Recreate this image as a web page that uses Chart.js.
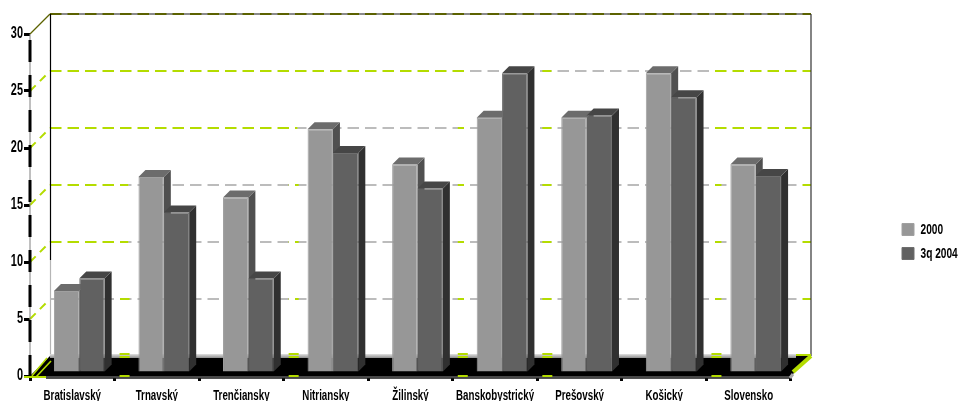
<!DOCTYPE html>
<html>
<head>
<meta charset="utf-8">
<style>
  html, body { margin: 0; padding: 0; background: #fff; }
  #wrap { position: relative; width: 961px; height: 401px; }
  canvas { display: block; }
</style>
<script src="https://cdn.jsdelivr.net/npm/chart.js@4/dist/chart.umd.min.js"></script>
</head>
<body>
<div id="wrap"><canvas id="chart" width="961" height="401"></canvas></div>
<script>
const regions = ['Bratislavský', 'Trnavský', 'Trenčiansky', 'Nitriansky', 'Žilinský', 'Banskobystrický', 'Prešovský', 'Košický', 'Slovensko'];
const values2000 = [7.1, 17.1, 15.3, 21.3, 18.2, 22.3, 22.3, 26.2, 18.2];
const values2004 = [8.2, 14.0, 8.2, 19.2, 16.1, 26.2, 22.5, 24.1, 17.2];
const seriesNames = ['2000', '3q 2004'];
const floorMarks = [1, 3, 5, 6, 8];

const LIME = '#b4dc00';
const WALL = 20;       // depth of the room
const BAR_DEPTH = 7;   // depth of one bar
const BAR_DX = 7;      // bars stand a bit inside the floor
const BAR_DY = -4;
const sideColors = ['#505050', '#303030'];
const topColors = ['#6c6c6c', '#464646'];
const FONT = '"Liberation Sans", Arial, sans-serif';
const TEXT_SX = 0.78;  // the original lettering is a condensed face
const TEXT_SY = 1.15;

function poly(ctx, pts, fill) {
    ctx.beginPath();
    pts.forEach((p, i) => i ? ctx.lineTo(p[0], p[1]) : ctx.moveTo(p[0], p[1]));
    ctx.closePath();
    ctx.fillStyle = fill;
    ctx.fill();
}

function line(ctx, x1, y1, x2, y2, color, width, dash) {
    ctx.beginPath();
    ctx.setLineDash(dash || []);
    ctx.strokeStyle = color;
    ctx.lineWidth = width;
    ctx.moveTo(x1, y1);
    ctx.lineTo(x2, y2);
    ctx.stroke();
    ctx.setLineDash([]);
}

const room3d = {
    id: 'room3d',
    beforeInit(chart) {
        // squeeze all library text around its anchor point
        const ctx = chart.ctx;
        const fillText = ctx.fillText;
        ctx.fillText = function (text, x, y) {
            this.save();
            this.translate(x, y);
            this.scale(TEXT_SX, TEXT_SY);
            fillText.call(this, text, 0, 0);
            this.restore();
        };
    },
    beforeDatasetsDraw(chart) {
        const ctx = chart.ctx;
        const a = chart.chartArea;
        const y = chart.scales.y;
        const x = chart.scales.x;
        const dash = [11.5, 6];
        const markX = i => a.left + i * x.width / regions.length + 5;
        ctx.save();

        // grid on the back wall and the left wall
        y.ticks.forEach(t => {
            if (t.value === 0) return;
            const py = y.getPixelForValue(t.value);
            const by = Math.round(py - WALL);
            if (t.value === 30) {
                line(ctx, a.left + WALL, by, a.right + WALL, by, '#8a8a8a', 2);
                line(ctx, a.left + WALL, by, a.right + WALL, by, '#5c6200', 2, dash);
                line(ctx, a.left, py, a.left + WALL, by, '#5c6200', 1.2);
                return;
            }
            line(ctx, a.left + WALL, by, a.right + WALL, by, LIME, 2, dash);
            line(ctx, a.left, py, a.left + WALL, by, LIME, 2, [8, 6]);

            // the line turns grey between the first and last region that reach it
            let from = null, to = null;
            regions.forEach((r, i) => {
                if (values2000[i] <= t.value && values2004[i] <= t.value) return;
                const first = chart.getDatasetMeta(0).data[i];
                const last = chart.getDatasetMeta(1).data[i];
                const left = first.x - first.width / 2 + BAR_DX - 10;
                const right = last.x + last.width / 2 + BAR_DX + BAR_DEPTH + 10;
                from = from === null ? left : Math.min(from, left);
                to = to === null ? right : Math.max(to, right);
            });
            if (from !== null) {
                ctx.save();
                ctx.beginPath();
                ctx.rect(from, by - 3, to - from, 6);
                ctx.clip();
                ctx.fillStyle = '#fff';
                ctx.fillRect(from, by - 3, to - from, 6);
                line(ctx, a.left + WALL, by, a.right + WALL, by, '#bcbcbc', 2, dash);
                ctx.restore();

                // small lime pieces stay visible in the same columns as on the floor
                floorMarks.forEach(i => {
                    const mx = markX(i);
                    if (mx < from || mx + 10 > to) return;
                    ctx.save();
                    ctx.beginPath();
                    ctx.rect(mx, by - 3, 10, 6);
                    ctx.clip();
                    line(ctx, a.left + WALL, by, a.right + WALL, by, LIME, 2, dash);
                    ctx.restore();
                });
            }
        });

        // wall edges
        const back = a.left + WALL, top = a.top - WALL, floorBack = a.bottom - WALL;
        const fade = floorBack - 96;
        line(ctx, back + 0.5, top, back + 0.5, fade, '#000', 1.2);
        line(ctx, back + 0.5, fade, back + 0.5, floorBack, '#b5b5b5', 1.2);
        line(ctx, a.right + WALL, top, a.right + WALL, floorBack, '#333', 1.2);

        // floor
        poly(ctx, [[a.left, a.bottom], [back, floorBack], [a.right + WALL, floorBack], [a.right, a.bottom]], '#000');
        const strip = ctx.createLinearGradient(0, floorBack - 2, 0, floorBack + 2);
        strip.addColorStop(0, '#e2e2e2');
        strip.addColorStop(1, '#8e8e8e');
        ctx.fillStyle = strip;
        ctx.fillRect(back, floorBack - 2, a.right + WALL - back - 15, 4);
        ctx.fillStyle = '#484848';
        ctx.fillRect(a.left + 16, a.bottom, a.right - a.left - 16, 2.5);
        ctx.fillStyle = '#000';
        ctx.fillRect(a.left + 16, a.bottom + 2.5, a.right - a.left - 16, 0.5);

        // lime pieces showing through the floor edges
        floorMarks.forEach(i => {
            const tx = markX(i);
            ctx.fillStyle = LIME;
            ctx.fillRect(tx, floorBack - 3, 10, 2);
            ctx.fillRect(tx, floorBack, 10, 2);
            ctx.fillRect(tx, a.bottom - 1, 10, 2);
        });
        ctx.fillStyle = LIME;
        ctx.fillRect(a.left - 6, a.bottom, 22, 2);
        ctx.fillRect(a.right + 5, floorBack - 2, 15, 2);
        line(ctx, a.left + 1, a.bottom + 1, a.left + 17, floorBack + 2, LIME, 1.6);
        line(ctx, a.left + 6, a.bottom + 1, a.left + 21, floorBack + 5, LIME, 1.6);
        line(ctx, a.right + 2, a.bottom - 4, a.right + WALL, floorBack, LIME, 4);
        line(ctx, a.right - 1, a.bottom + 2, a.right + 2, a.bottom - 2, '#a8a8a8', 3);

        // front axis, grey with long black dashes
        line(ctx, a.left, a.top, a.left, a.bottom, '#808080', 1);
        line(ctx, a.left, a.top + 6, a.left, a.bottom, '#000', 3, [22, 13]);

        // sides and tops of the bars
        chart.data.datasets.forEach((ds, d) => {
            chart.getDatasetMeta(d).data.forEach(bar => {
                const l = bar.x - bar.width / 2 + BAR_DX;
                const r = bar.x + bar.width / 2 + BAR_DX;
                const t = bar.y + BAR_DY;
                const b = bar.base + BAR_DY;
                poly(ctx, [[r, t], [r + BAR_DEPTH, t - BAR_DEPTH], [r + BAR_DEPTH, b - BAR_DEPTH], [r, b]], sideColors[d]);
                poly(ctx, [[l, t], [l + BAR_DEPTH, t - BAR_DEPTH], [r + BAR_DEPTH, t - BAR_DEPTH], [r, t]], topColors[d]);
            });
        });

        ctx.restore();
        // the library draws the fronts, shifted onto the floor
        ctx.save();
        ctx.translate(BAR_DX, BAR_DY);
    },
    afterDatasetsDraw(chart) {
        chart.ctx.restore();
    },
    afterLayout(chart) {
        const lg = chart.legend;
        lg.left = 891;
        lg.right = lg.left + lg.width;
        lg.top = 212;
        lg.bottom = lg.top + lg.height;
        lg.adjustHitBoxes();
    }
};

new Chart(document.getElementById('chart'), {
    type: 'bar',
    data: {
        labels: regions,
        datasets: [
            {
                label: seriesNames[0],
                data: values2000,
                backgroundColor: '#979797',
                borderColor: '#a0a0a0',
                borderWidth: 1,
                clip: false,
                categoryPercentage: 0.6,
                barPercentage: 1
            },
            {
                label: seriesNames[1],
                data: values2004,
                backgroundColor: '#616161',
                borderColor: '#6e6e6e',
                borderWidth: 1,
                clip: false,
                categoryPercentage: 0.6,
                barPercentage: 1
            }
        ]
    },
    options: {
        responsive: false,
        animation: false,
        devicePixelRatio: 1,
        layout: { padding: { left: 0, right: 170, top: 34, bottom: 0 } },
        plugins: {
            legend: {
                position: 'chartArea',
                align: 'start',
                labels: {
                    boxWidth: 12,
                    boxHeight: 12,
                    padding: 11,
                    color: '#000',
                    font: { family: FONT, size: 13, weight: 'bold' }
                }
            },
            tooltip: { enabled: false }
        },
        scales: {
            x: {
                afterFit: s => { s.height = 25; },
                border: { display: false },
                grid: { drawOnChartArea: false, tickLength: 5, tickColor: '#000', tickWidth: 3 },
                ticks: { color: '#000', padding: 8, maxRotation: 0, autoSkip: false, font: { family: FONT, size: 12.5, weight: 'bold' } }
            },
            y: {
                min: 0,
                max: 30,
                afterFit: s => { s.width = 30; },
                border: { display: false },
                grid: { drawOnChartArea: false, tickLength: 6, tickColor: '#000', tickWidth: 3 },
                ticks: { stepSize: 5, color: '#000', padding: 1, font: { family: FONT, size: 14, weight: 'bold' } }
            }
        }
    },
    plugins: [room3d]
});
</script>
</body>
</html>
